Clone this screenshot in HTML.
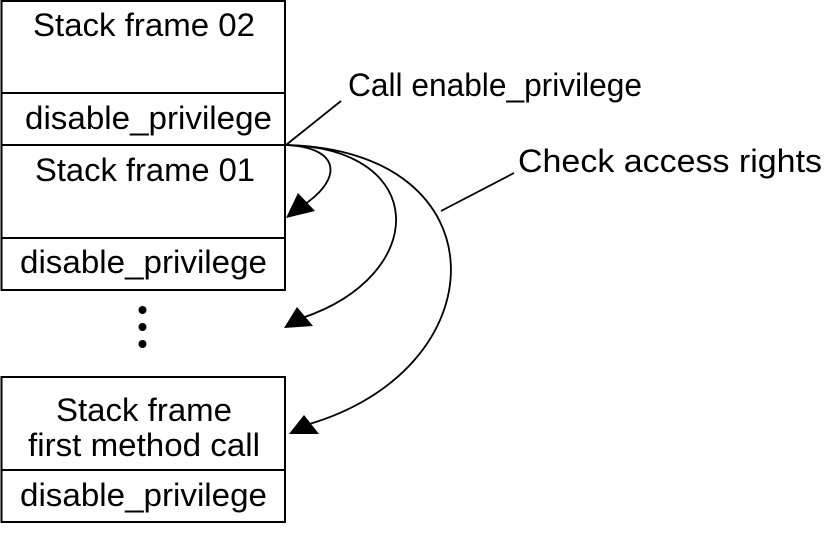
<!DOCTYPE html>
<html><head><style>html,body{margin:0;padding:0;background:#fff;}svg{display:block}</style></head>
<body>
<svg width="825" height="534" viewBox="0 0 825 534" xmlns="http://www.w3.org/2000/svg">
<g fill="none" stroke="#000" stroke-width="2">
<rect x="1.5" y="1" width="283.5" height="289"/>
<line x1="1.5" y1="93" x2="285" y2="93"/>
<line x1="1.5" y1="145" x2="285" y2="145"/>
<line x1="1.5" y1="238" x2="285" y2="238"/>
<rect x="1.5" y="377" width="283.5" height="145"/>
<line x1="1.5" y1="470" x2="285" y2="470"/>
</g>
<g fill="none" stroke="#000" stroke-width="1.8">
<line x1="286" y1="145" x2="341" y2="101"/>
<line x1="441" y1="211" x2="514" y2="173"/>
<path d="M286,145 C345,148 340,182 302,206"/>
<path d="M286,145 C430,148 430,275 302,318"/>
<path d="M286,145 C505,150 500,370 306,425"/>
</g>
<g fill="#000">
<polygon points="286,218 298,193 315,211"/>
<polygon points="284,328 297,307 313,326"/>
<polygon points="289,434 304,415 319,434"/>
<circle cx="142.5" cy="310" r="4"/>
<circle cx="142.5" cy="327" r="4"/>
<circle cx="142.5" cy="344" r="4"/>
</g>
<g font-family="Liberation Sans, Arial, sans-serif" font-size="32" fill="#000">
<text x="33" y="36" textLength="222" lengthAdjust="spacingAndGlyphs">Stack frame 02</text>
<text x="25" y="129" textLength="247" lengthAdjust="spacingAndGlyphs">disable_privilege</text>
<text x="35" y="181" textLength="220" lengthAdjust="spacingAndGlyphs">Stack frame 01</text>
<text x="20" y="273" textLength="247" lengthAdjust="spacingAndGlyphs">disable_privilege</text>
<text x="56" y="421" textLength="176" lengthAdjust="spacingAndGlyphs">Stack frame</text>
<text x="28" y="456" textLength="232" lengthAdjust="spacingAndGlyphs">first method call</text>
<text x="20" y="506" textLength="247" lengthAdjust="spacingAndGlyphs">disable_privilege</text>
<text x="348" y="96" textLength="294" lengthAdjust="spacingAndGlyphs">Call enable_privilege</text>
<text x="518" y="172" textLength="304" lengthAdjust="spacingAndGlyphs">Check access rights</text>
</g>
</svg>
</body></html>
